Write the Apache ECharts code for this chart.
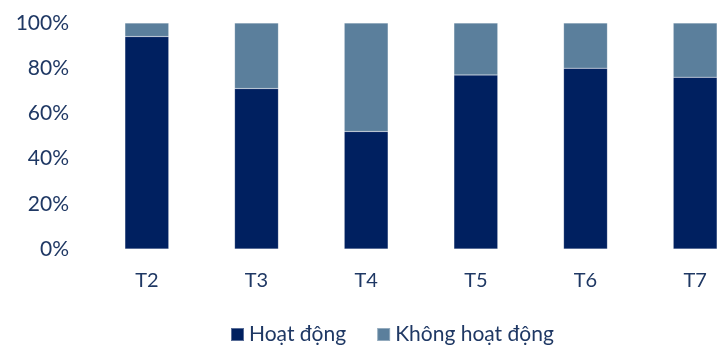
<!DOCTYPE html>
<html>
<head>
<meta charset="utf-8">
<script src="https://cdn.jsdelivr.net/npm/echarts@6/dist/echarts.min.js"></script>
<style>
  html, body { margin: 0; padding: 0; background: #fff; overflow: hidden; }
  /* The drawing surface runs a little past the right edge of the page */
  #chart { width: 750px; height: 346px; }
</style>
</head>
<body>
<div id="chart"></div>
<script>
// Monthly share of active vs inactive (percent of total)
const categories = ['T2', 'T3', 'T4', 'T5', 'T6', 'T7'];
const activeShare = [94, 71, 52, 77, 80, 76];
const inactiveShare = [6, 29, 48, 23, 20, 24];
const seriesNames = ['Hoạt động', 'Không hoạt động'];

const textColor = '#1F3864';
const font = 'Lato, "Open Sans", sans-serif';

const chart = echarts.init(document.getElementById('chart'));
chart.setOption({
  animation: false,
  textStyle: { fontFamily: font },
  grid: { left: 92, top: 23, right: 0, height: 226, containLabel: false },
  legend: {
    top: 319,
    left: 225,
    itemWidth: 13,
    itemHeight: 13,
    itemGap: 30,
    icon: 'rect',
    textStyle: { color: textColor, fontSize: 21, fontFamily: font },
    data: seriesNames
  },
  xAxis: {
    type: 'category',
    data: categories,
    axisLine: { show: false },
    axisTick: { show: false },
    axisLabel: { color: textColor, fontSize: 20, margin: 22, fontFamily: font }
  },
  yAxis: {
    type: 'value',
    min: 0,
    max: 100,
    interval: 20,
    splitLine: { show: false },
    axisLine: { show: false },
    axisTick: { show: false },
    axisLabel: {
      color: textColor, fontSize: 21, margin: 23, fontFamily: font,
      formatter: '{value}%'
    }
  },
  series: [
    {
      name: seriesNames[0],
      type: 'bar',
      stack: 'total',
      barWidth: '40%',
      data: activeShare,
      itemStyle: { color: '#002060', borderColor: 'rgba(255,255,255,0.35)', borderWidth: 0.5 }
    },
    {
      name: seriesNames[1],
      type: 'bar',
      stack: 'total',
      barWidth: '40%',
      data: inactiveShare,
      itemStyle: { color: '#5B7F9C', borderColor: 'rgba(255,255,255,0.35)', borderWidth: 0.5 }
    }
  ]
});
</script>
</body>
</html>
